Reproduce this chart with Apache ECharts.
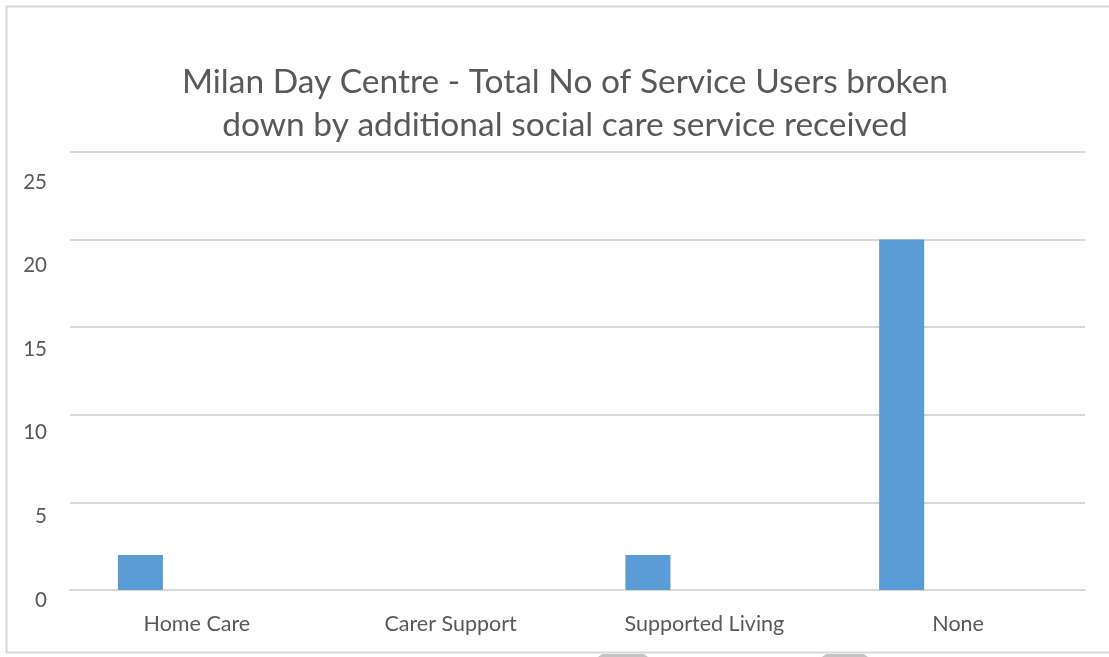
<!DOCTYPE html>
<html>
<head>
<meta charset="utf-8">
<script src="https://cdn.jsdelivr.net/npm/echarts@6/dist/echarts.min.js"></script>
<style>
  html, body { margin: 0; padding: 0; background: #ffffff; }
  #chart { width: 1109px; height: 657px; }
</style>
</head>
<body>
<div id="chart"></div>
<script>
// Service categories along the x axis
const categories = ['Home Care', 'Carer Support', 'Supported Living', 'None'];
// Number of service users per category
const serviceUsers = [2, 0, 2, 20];
// Companion series with no values (keeps the cluster offset)
const otherValues = [null, null, null, null];
// Value axis ticks
const yTicks = [0, 5, 10, 15, 20, 25];

const titleText = 'Milan Day Centre - Total No of Service Users broken\ndown by additional social care service received';
const textColor = '#595959';
const gridColor = '#d9d9d9';
const fontFamily = 'Lato, "Open Sans", sans-serif';

const chart = echarts.init(document.getElementById('chart'), null, { renderer: 'canvas' });

const yMax = yTicks[yTicks.length - 1];
const yStep = yTicks[1] - yTicks[0];

chart.setOption({
  animation: false,
  backgroundColor: '#ffffff',
  title: {
    text: titleText,
    left: 560,
    top: 56,
    textAlign: 'center',
    textStyle: {
      fontFamily: fontFamily,
      fontSize: 33.5,
      fontWeight: 'normal',
      color: textColor,
      lineHeight: 43
    }
  },
  grid: [
    { left: 70, right: 24, top: 152, bottom: 67, containLabel: false },
    // label-only grid for the value tick text
    { left: 70, right: 24, top: 182, bottom: 57, containLabel: false }
  ],
  xAxis: [
    {
      type: 'category',
      gridIndex: 0,
      data: categories,
      axisLine: { show: true, lineStyle: { color: gridColor, width: 2 } },
      axisTick: { show: false },
      axisLabel: {
        margin: 23,
        fontFamily: fontFamily,
        fontSize: 21.5,
        color: textColor
      }
    },
    {
      type: 'category',
      gridIndex: 1,
      data: categories,
      show: false
    }
  ],
  yAxis: [
    {
      type: 'value',
      gridIndex: 0,
      min: 0,
      max: yMax,
      interval: yStep,
      axisLine: { show: false },
      axisTick: { show: false },
      axisLabel: { show: false },
      splitLine: { show: true, lineStyle: { color: gridColor, width: 2 } }
    },
    {
      type: 'value',
      gridIndex: 1,
      min: 0,
      max: yMax,
      interval: yStep,
      axisLine: { show: false },
      axisTick: { show: false },
      splitLine: { show: false },
      axisLabel: {
        margin: 23,
        fontFamily: fontFamily,
        fontSize: 20.5,
        color: textColor
      }
    }
  ],
  series: [
    {
      name: 'Service Users',
      type: 'bar',
      xAxisIndex: 0,
      yAxisIndex: 0,
      data: serviceUsers,
      barWidth: 45,
      barGap: '151%',
      itemStyle: { color: '#5b9bd5' }
    },
    {
      name: 'Other',
      type: 'bar',
      xAxisIndex: 0,
      yAxisIndex: 0,
      data: otherValues,
      barWidth: 45,
      itemStyle: { color: '#ed7d31' }
    }
  ],
  graphic: [
    {
      type: 'rect',
      shape: { x: 6.5, y: 6.5, width: 1110, height: 646 },
      style: { fill: 'none', stroke: '#d9d9d9', lineWidth: 2 },
      silent: true
    },
    {
      type: 'polygon',
      shape: { points: [[598, 657], [602, 654], [644, 654], [648, 657]] },
      style: { fill: '#c4c4c4' },
      silent: true
    },
    {
      type: 'polygon',
      shape: { points: [[822, 657], [826, 654], [864, 654], [868, 657]] },
      style: { fill: '#c4c4c4' },
      silent: true
    }
  ]
});
</script>
</body>
</html>
